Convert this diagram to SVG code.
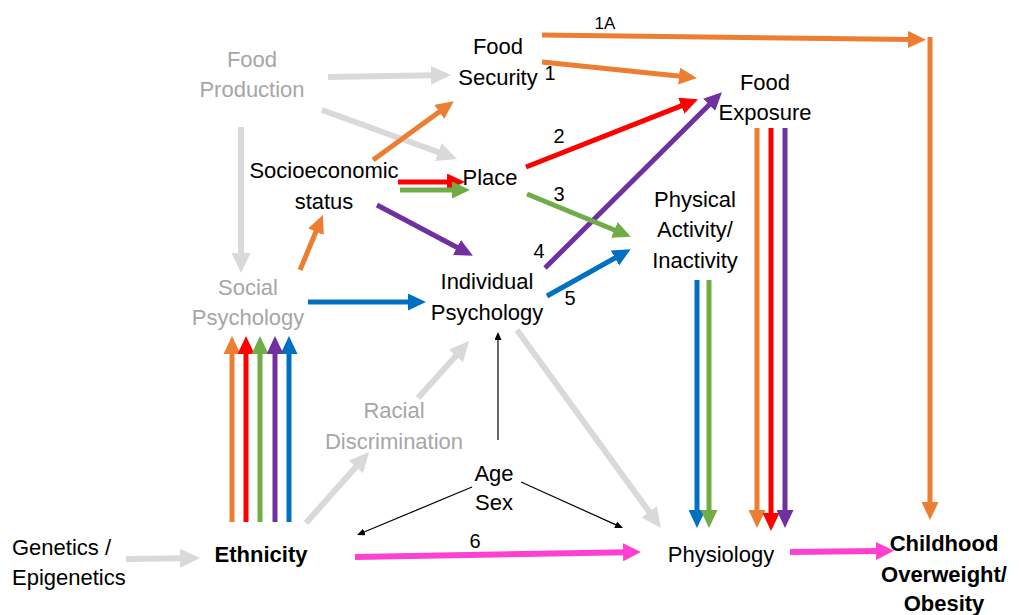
<svg xmlns="http://www.w3.org/2000/svg" width="1019" height="615" viewBox="0 0 1019 615">
<style>
text{font-family:"Liberation Sans",Arial,sans-serif;font-size:22px;fill:#000;text-anchor:middle}
.g{fill:#A6A6A6}
.b{font-weight:bold}
.n{font-size:20px}
.s{font-size:17px}
.l{text-anchor:start}
.t{fill:none;stroke-width:5}
.gr{fill:none;stroke:#D9D9D9;stroke-width:6}
.k{fill:none;stroke:#000;stroke-width:1.2}
.o{stroke:#ED7D31}.r{stroke:#FF0000}.gn{stroke:#70AD47}.p{stroke:#7030A0}.bl{stroke:#0070C0}.pk{stroke:#FF3FD2;stroke-width:6}
</style>
<defs>
<marker id="mo" markerUnits="userSpaceOnUse" markerWidth="18" markerHeight="17" viewBox="0 0 18 17" refX="4" refY="8.5" orient="auto"><path d="M0,0L18,8.5L0,17z" fill="#ED7D31"/></marker>
<marker id="mr" markerUnits="userSpaceOnUse" markerWidth="18" markerHeight="17" viewBox="0 0 18 17" refX="4" refY="8.5" orient="auto"><path d="M0,0L18,8.5L0,17z" fill="#FF0000"/></marker>
<marker id="mg" markerUnits="userSpaceOnUse" markerWidth="18" markerHeight="17" viewBox="0 0 18 17" refX="4" refY="8.5" orient="auto"><path d="M0,0L18,8.5L0,17z" fill="#70AD47"/></marker>
<marker id="mp" markerUnits="userSpaceOnUse" markerWidth="18" markerHeight="17" viewBox="0 0 18 17" refX="4" refY="8.5" orient="auto"><path d="M0,0L18,8.5L0,17z" fill="#7030A0"/></marker>
<marker id="mb" markerUnits="userSpaceOnUse" markerWidth="18" markerHeight="17" viewBox="0 0 18 17" refX="4" refY="8.5" orient="auto"><path d="M0,0L18,8.5L0,17z" fill="#0070C0"/></marker>
<marker id="mpk" markerUnits="userSpaceOnUse" markerWidth="18" markerHeight="18" viewBox="0 0 18 18" refX="4" refY="9" orient="auto"><path d="M0,0L18,9L0,18z" fill="#FF3FD2"/></marker>
<marker id="mgr" markerUnits="userSpaceOnUse" markerWidth="20" markerHeight="19" viewBox="0 0 20 19" refX="4" refY="9.5" orient="auto"><path d="M0,0L20,9.5L0,19z" fill="#D9D9D9"/></marker>
<marker id="mk" markerUnits="userSpaceOnUse" markerWidth="8" markerHeight="7" viewBox="0 0 8 7" refX="1" refY="3.5" orient="auto"><path d="M0,0L8,3.5L0,7z" fill="#000"/></marker>
</defs>

<g id="connectors">
<line class="gr" x1="328" y1="77" x2="435" y2="75.3" marker-end="url(#mgr)"/>
<line class="gr" x1="322" y1="110" x2="442" y2="153.5" marker-end="url(#mgr)"/>
<line class="gr" x1="241" y1="127" x2="241" y2="257" marker-end="url(#mgr)"/>
<line class="gr" x1="517" y1="330" x2="651.5" y2="515" marker-end="url(#mgr)"/>
<line class="gr" x1="306" y1="523" x2="358.5" y2="464" marker-end="url(#mgr)"/>
<line class="gr" x1="418" y1="398" x2="458.5" y2="353" marker-end="url(#mgr)"/>
<line class="gr" x1="126" y1="559" x2="184" y2="558.2" marker-end="url(#mgr)"/>
<line class="t o" x1="542" y1="35" x2="912" y2="39.5" marker-end="url(#mo)"/>
<line class="t o" x1="930" y1="37" x2="930" y2="506" marker-end="url(#mo)"/>
<line class="t o" x1="542" y1="62" x2="683" y2="76.5" marker-end="url(#mo)"/>
<line class="t r" x1="526" y1="167" x2="685" y2="104.3" marker-end="url(#mr)"/>
<line class="t p" x1="545" y1="268" x2="712" y2="102" marker-end="url(#mp)"/>
<line class="t gn" x1="527" y1="194" x2="618" y2="231.5" marker-end="url(#mg)"/>
<line class="t bl" x1="547" y1="296" x2="618.5" y2="256" marker-end="url(#mb)"/>
<line class="t o" x1="373" y1="160" x2="442.5" y2="109.5" marker-end="url(#mo)"/>
<line class="t r" x1="398" y1="182" x2="451" y2="182" marker-end="url(#mr)"/>
<line class="t gn" x1="400" y1="190" x2="456" y2="190" marker-end="url(#mg)"/>
<line class="t p" x1="377" y1="205" x2="460.5" y2="249.3" marker-end="url(#mp)"/>
<line class="t o" x1="300" y1="270" x2="317.5" y2="228" marker-end="url(#mo)"/>
<line class="t bl" x1="308" y1="302" x2="412" y2="302" marker-end="url(#mb)"/>
<line class="t o" x1="232" y1="522" x2="232" y2="350" marker-end="url(#mo)"/>
<line class="t r" x1="246" y1="522" x2="246" y2="350" marker-end="url(#mr)"/>
<line class="t gn" x1="260" y1="522" x2="260" y2="350" marker-end="url(#mg)"/>
<line class="t p" x1="275" y1="522" x2="275" y2="350" marker-end="url(#mp)"/>
<line class="t bl" x1="289" y1="522" x2="289" y2="350" marker-end="url(#mb)"/>
<line class="t bl" x1="697" y1="280" x2="697" y2="514" marker-end="url(#mb)"/>
<line class="t gn" x1="709" y1="280" x2="709" y2="514" marker-end="url(#mg)"/>
<line class="t o" x1="757" y1="128" x2="757" y2="514" marker-end="url(#mo)"/>
<line class="t r" x1="771" y1="128" x2="771" y2="517" marker-end="url(#mr)"/>
<line class="t p" x1="785" y1="128" x2="785" y2="514" marker-end="url(#mp)"/>
<line class="t pk" x1="355" y1="557" x2="627" y2="552.2" marker-end="url(#mpk)"/>
<line class="t pk" x1="790" y1="552" x2="880" y2="551" marker-end="url(#mpk)"/>
<line class="k" x1="498" y1="440" x2="498" y2="339" marker-end="url(#mk)"/>
<line class="k" x1="472" y1="487" x2="363.5" y2="532.3" marker-end="url(#mk)"/>
<line class="k" x1="521" y1="482" x2="616.6" y2="525.1" marker-end="url(#mk)"/>
</g>

<g id="labels">
<text class="s" x="605" y="29">1A</text>
<text class="n" x="550" y="80">1</text>
<text class="n" x="559" y="143">2</text>
<text class="n" x="559" y="201">3</text>
<text class="n" x="539" y="258">4</text>
<text class="n" x="570" y="305">5</text>
<text class="n" x="475" y="548">6</text>
</g>

<g id="food-production"><text class="g" x="252" y="67">Food</text><text class="g" x="252" y="97">Production</text></g>
<g id="food-security"><text x="498" y="54">Food</text><text x="498" y="85">Security</text></g>
<g id="food-exposure"><text x="765" y="90">Food</text><text x="765" y="120">Exposure</text></g>
<g id="socioeconomic-status"><text x="324" y="178">Socioeconomic</text><text x="324" y="209">status</text></g>
<g id="place"><text x="490" y="185">Place</text></g>
<g id="physical-activity"><text x="695" y="207">Physical</text><text x="695" y="237">Activity/</text><text x="695" y="268">Inactivity</text></g>
<g id="social-psychology"><text class="g" x="248" y="295">Social</text><text class="g" x="248" y="325">Psychology</text></g>
<g id="individual-psychology"><text x="487" y="289">Individual</text><text x="487" y="320">Psychology</text></g>
<g id="racial-discrimination"><text class="g" x="394" y="418">Racial</text><text class="g" x="394" y="449">Discrimination</text></g>
<g id="age-sex"><text x="494" y="481">Age</text><text x="494" y="510">Sex</text></g>
<g id="genetics"><text class="l" x="12" y="555">Genetics /</text><text class="l" x="12" y="585">Epigenetics</text></g>
<g id="ethnicity"><text class="b" x="261" y="562">Ethnicity</text></g>
<g id="physiology"><text x="721" y="562">Physiology</text></g>
<g id="childhood-obesity"><text class="b" x="944" y="551">Childhood</text><text class="b" x="944" y="582">Overweight/</text><text class="b" x="944" y="611">Obesity</text></g>
</svg>
